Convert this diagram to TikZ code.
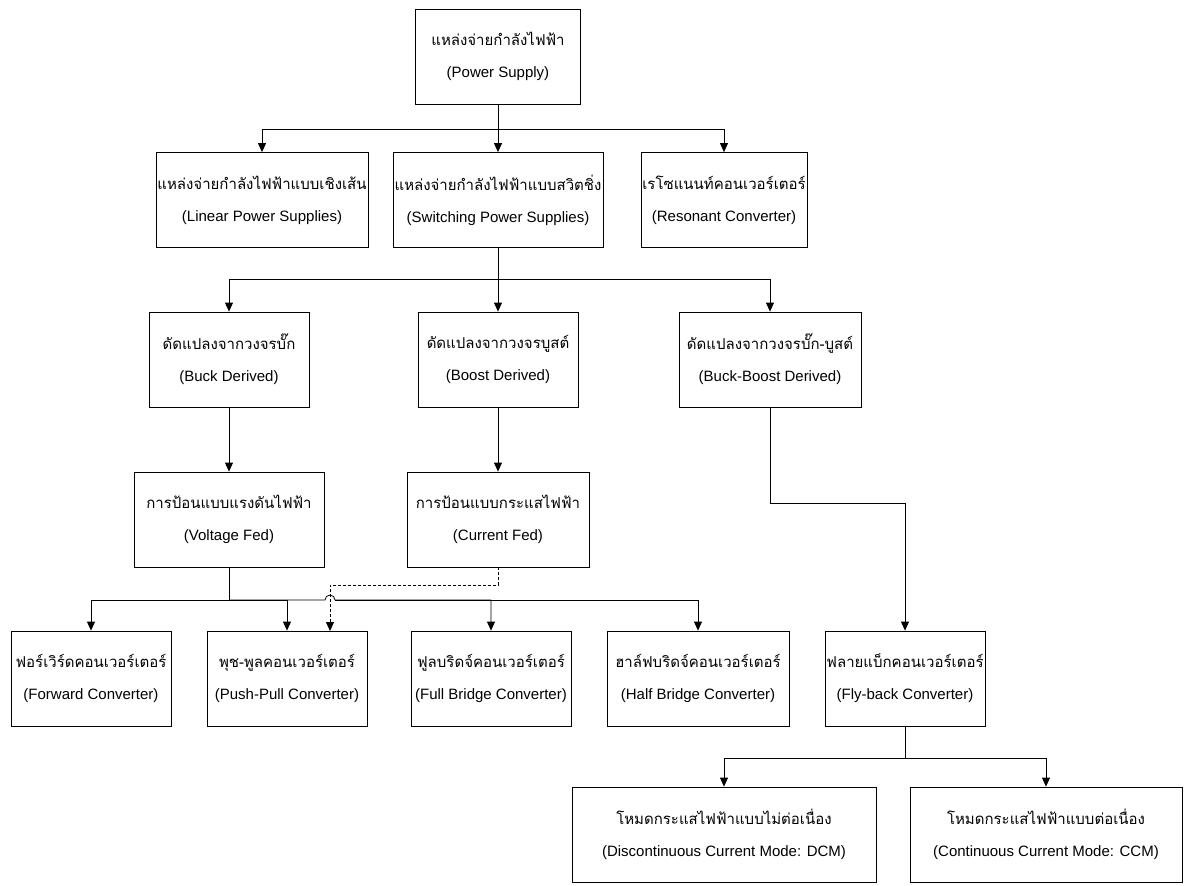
\documentclass[tikz,border=0pt]{standalone}
\usepackage{fontspec}
\setmainfont{Liberation Sans}
\newfontfamily\thaifont[Script=Thai]{Loma}
\usetikzlibrary{arrows.meta}
\newcommand{\boxtext}[2]{{\thaifont #1}\\#2}

\begin{document}
\begin{tikzpicture}[x=1pt,y=-1pt,line width=0.8pt,
  box/.style={draw,minimum height=95pt,inner sep=0pt,align=center,font=\fontsize{15}{32}\selectfont},
  arr/.style={-{Triangle[length=9pt,width=8pt]}},
  feed/.style={arr,dash pattern=on 3pt off 2pt}]
\useasboundingbox (0,0) rectangle (1184,886);
\node[box,minimum width=165pt] (ps) at (498,56.5) {\boxtext{แหล่งจ่ายกำลังไฟฟ้า}{(Power Supply)}};
\node[box,minimum width=212pt] (lin) at (262,200) {\boxtext{แหล่งจ่ายกำลังไฟฟ้าแบบเชิงเส้น}{(Linear Power Supplies)}};
\node[box,minimum width=210pt] (sw) at (498,200) {\boxtext{แหล่งจ่ายกำลังไฟฟ้าแบบสวิตชิ่ง}{(Switching Power Supplies)}};
\node[box,minimum width=166pt] (res) at (724,200) {\boxtext{เรโซแนนท์คอนเวอร์เตอร์}{(Resonant Converter)}};
\node[box,minimum width=160pt] (buck) at (229,359.5) {\boxtext{ดัดแปลงจากวงจรบั๊ก}{(Buck Derived)}};
\node[box,minimum width=160pt] (boost) at (498,359.5) {\boxtext{ดัดแปลงจากวงจรบูสต์}{(Boost Derived)}};
\node[box,minimum width=182pt] (bb) at (770,359.5) {\boxtext{ดัดแปลงจากวงจรบั๊ก-บูสต์}{(Buck-Boost Derived)}};
\node[box,minimum width=190pt] (vf) at (229,519.5) {\boxtext{การป้อนแบบแรงดันไฟฟ้า}{(Voltage Fed)}};
\node[box,minimum width=182pt] (cf) at (498,519.5) {\boxtext{การป้อนแบบกระแสไฟฟ้า}{(Current Fed)}};
\node[box,minimum width=160pt] (fwd) at (91,678.5) {\boxtext{ฟอร์เวิร์ดคอนเวอร์เตอร์}{(Forward Converter)}};
\node[box,minimum width=160pt] (pp) at (287,678.5) {\boxtext{พุช-พูลคอนเวอร์เตอร์}{(Push-Pull Converter)}};
\node[box,minimum width=160pt] (fb) at (491,678.5) {\boxtext{ฟูลบริดจ์คอนเวอร์เตอร์}{(Full Bridge Converter)}};
\node[box,minimum width=182pt] (hb) at (698,678.5) {\boxtext{ฮาล์ฟบริดจ์คอนเวอร์เตอร์}{(Half Bridge Converter)}};
\node[box,minimum width=160pt] (fly) at (905,678.5) {\boxtext{ฟลายแบ็กคอนเวอร์เตอร์}{(Fly-back Converter)}};
\node[box,minimum width=304pt] (dcm) at (724,834.5) {\boxtext{โหมดกระแสไฟฟ้าแบบไม่ต่อเนื่อง}{(Discontinuous Current Mode: DCM)}};
\node[box,minimum width=272pt] (ccm) at (1046,834.5) {\boxtext{โหมดกระแสไฟฟ้าแบบต่อเนื่อง}{(Continuous Current Mode: CCM)}};

\coordinate (j1) at (498,129);
\coordinate (j2) at (498,279);
\coordinate (j3) at (229,600);
\coordinate (j4) at (770,503);
\coordinate (j5) at (498,585);
\coordinate (j6) at (905,758);
\coordinate (hop) at (325,600);
\coordinate (ppd) at (330,631);

\draw (ps.south) -- (j1);
\draw[arr] (j1) -| (lin.north);
\draw[arr] (j1) -- (sw.north);
\draw[arr] (j1) -| (res.north);
\draw (sw.south) -- (j2);
\draw[arr] (j2) -| (buck.north);
\draw[arr] (j2) -- (boost.north);
\draw[arr] (j2) -| (bb.north);
\draw[arr] (buck) -- (vf);
\draw[arr] (boost) -- (cf);
\draw[arr] (bb.south) -- (j4) -| (fly.north);
\draw (vf.south) -- (j3);
\draw[arr] (j3) -| (fwd.north);
\draw[arr] (j3) -| (pp.north);
\draw[arr] (j3) -- (hop) arc[start angle=180,end angle=360,radius=5] coordinate (hopend) -| (fb.north);
\draw[arr] (hopend) -| (hb.north);
\draw[feed] (cf.south) -- (j5) -| (ppd);
\draw (fly.south) -- (j6);
\draw[arr] (j6) -| (dcm.north);
\draw[arr] (j6) -| (ccm.north);
\end{tikzpicture}
\end{document}
